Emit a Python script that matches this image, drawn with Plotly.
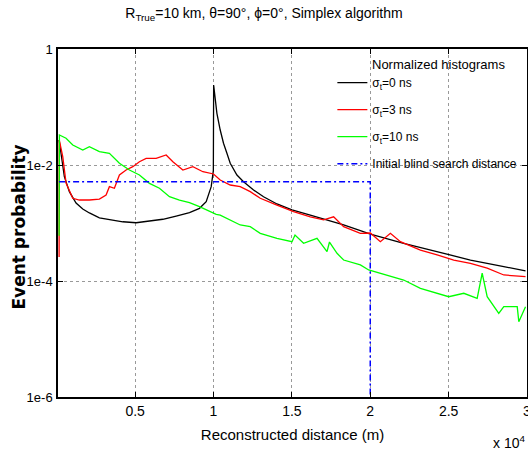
import plotly.graph_objects as go

# ---- data (x in metres, y = event probability) ----
black_x = [150, 485, 805, 1232, 1660, 2082, 2720, 3359, 4215, 5064, 5913, 6769, 7618, 8468,
           9106, 9534, 9854, 9990, 10010, 10218, 10428, 10639, 10856, 11067, 11495, 11916,
           12555, 13193, 14049, 15007, 16176, 17242, 18302, 19369, 20008, 22134, 24267,
           26393, 28520, 29906]
black_y = [0.0270, 0.00628, 0.00347, 0.00221, 0.00174, 0.00149, 0.00123, 0.00116, 0.00105,
           0.00101, 0.00108, 0.00116, 0.00132, 0.00151, 0.00179, 0.00233, 0.00423, 0.0080,
           0.239, 0.0778, 0.0401, 0.0237, 0.0159, 0.0107, 0.00672, 0.00515, 0.00371, 0.00284,
           0.00213, 0.00168, 0.00137, 0.00113, 0.000924, 0.000736, 0.000646, 0.000447,
           0.000320, 0.000230, 0.000177, 0.000150]

red_x = [150, 160, 383, 594, 1022, 1443, 2082, 2720, 3148, 3359, 3678, 3998, 4425, 4853,
         5275, 5703, 6341, 6980, 7408, 8046, 8685, 9324, 10000, 10428, 11067, 11706, 12344,
         12983, 14049, 15109, 16176, 17025, 17664, 18302, 19369, 20008, 20646, 21285, 21923,
         23200, 24267, 25327, 26393, 27460, 28520, 29906]
red_y = [0.000259, 0.0270, 0.0139, 0.00490, 0.00267, 0.00249, 0.00249, 0.00259, 0.00304,
         0.00423, 0.00397, 0.00672, 0.00820, 0.00935, 0.0114, 0.0130, 0.0130, 0.0149, 0.0114,
         0.00820, 0.00935, 0.00766, 0.0070, 0.00551, 0.00452, 0.00423, 0.00347, 0.00267,
         0.00204, 0.00157, 0.00128, 0.00113, 0.00128, 0.000863, 0.000664, 0.000673, 0.000476,
         0.000664, 0.000476, 0.000342, 0.000281, 0.000230, 0.000202, 0.000166, 0.000127,
         0.000119]

green_x = [150, 170, 594, 1022, 1660, 2082, 2720, 3359, 3998, 4636, 5275, 5913, 6552, 7191,
           7829, 8468, 9106, 9745, 10173, 10428, 11067, 11706, 12344, 12983, 14049, 15007,
           15200, 15748, 16604, 17000, 17242, 17400, 17881, 18302, 19369, 19899, 21074, 22134,
           23200, 24267, 25007, 25966, 26821, 27141, 27460, 28200, 28520, 29376, 29478, 29906]
green_y = [0.0006, 0.0329, 0.0289, 0.0221, 0.0181, 0.0207, 0.0170, 0.0159, 0.0107, 0.00820,
           0.00672, 0.00483, 0.00397, 0.00284, 0.00249, 0.00224, 0.00191, 0.00157, 0.00141,
           0.00137, 0.00113, 0.000924, 0.000863, 0.000664, 0.000544, 0.000476, 0.000621,
           0.000447, 0.000544, 0.000400, 0.000320, 0.000470, 0.000300, 0.000230, 0.000189,
           0.000155, 0.000127, 0.000104, 0.0000748, 0.0000614, 0.0000536, 0.0000614,
           0.0000504, 0.000136, 0.0000536, 0.0000277, 0.0000361, 0.0000361, 0.0000199,
           0.0000361]

blind_x = [150, 20000, 20000]
blind_y = [0.00515, 0.00515, 1e-6]

x_tickvals = [5000, 10000, 15000, 20000, 25000, 30000]
x_ticktext = ["0.5", "1", "1.5", "2", "2.5", "3"]
y_tickvals = [1e-6, 1e-4, 1e-2, 1]
y_ticktext = ["1e-6", "1e-4", "1e-2", "1"]

SANS = "Liberation Sans, Arial, sans-serif"

fig = go.Figure()
fig.add_trace(go.Scatter(x=black_x, y=black_y, mode="lines", name="σ<sub>t</sub>=0 ns",
                         line=dict(color="black", width=1.3), legendgroup="a"))
fig.add_trace(go.Scatter(x=red_x, y=red_y, mode="lines", name="σ<sub>t</sub>=3 ns",
                         line=dict(color="#ff0000", width=1.3), legendgroup="b"))
fig.add_trace(go.Scatter(x=green_x, y=green_y, mode="lines", name="σ<sub>t</sub>=10 ns",
                         line=dict(color="#00ff00", width=1.3), legendgroup="c"))
fig.add_trace(go.Scatter(x=blind_x, y=blind_y, mode="lines", name="Initial blind search distance",
                         line=dict(color="#0000ff", width=1.5, dash="6px,3px,2px,3px"),
                         legendgroup="d"))

fig.update_layout(
    width=528, height=457,
    margin=dict(l=58, r=1, t=49, b=60, autoexpand=False),
    paper_bgcolor="white", plot_bgcolor="white",
    font=dict(family=SANS, size=14, color="black"),
    title=dict(text="R<sub>True</sub>=10 km, θ=90°, ϕ=0°, Simplex algorithm",
               x=0.5, xanchor="center", y=0.972, yanchor="middle",
               font=dict(family=SANS, size=14)),
    showlegend=True,
    legend=dict(x=0.585, y=0.945, xanchor="left", yanchor="top",
                bgcolor="rgba(0,0,0,0)", borderwidth=0,
                font=dict(family=SANS, size=12),
                itemwidth=30, traceorder="grouped", tracegroupgap=8),
    xaxis=dict(type="linear", range=[80, 30000], tickvals=x_tickvals, ticktext=x_ticktext,
               ticks="inside", ticklen=5, tickcolor="black", showline=True, linecolor="black",
               linewidth=1.5, mirror="ticks", showgrid=True, gridcolor="#999",
               griddash="dot", gridwidth=1, zeroline=False, automargin=False,
               ticklabeloverflow="allow",
               tickfont=dict(family=SANS, size=14),
               title=dict(text="Reconstructed distance (m)", standoff=12,
                          font=dict(family=SANS, size=15))),
    yaxis=dict(type="log", range=[-6, 0], tickvals=y_tickvals, ticktext=y_ticktext,
               ticks="inside", ticklen=5, tickcolor="black", showline=True, linecolor="black",
               linewidth=1.5, mirror="ticks", showgrid=True, gridcolor="#999",
               griddash="dot", gridwidth=1, zeroline=False, automargin=False,
               ticklabeloverflow="allow",
               tickfont=dict(family=SANS, size=13), ticklabelstandoff=1),
    annotations=[
        dict(text="Event probability", xref="paper", yref="paper",
             x=(18 - 58) / 469, y=1 - (227.5 - 49) / 348, xanchor="center", yanchor="middle",
             textangle=-90, showarrow=False,
             font=dict(family="DejaVu Sans", size=17, weight="bold")),
        dict(text="Normalized histograms", xref="paper", yref="paper",
             x=(370 - 58) / 469, y=1 - (65 - 49) / 348, xanchor="left", yanchor="middle",
             showarrow=False, font=dict(family=SANS, size=13)),
        dict(text="x 10<sup>4</sup>", xref="paper", yref="paper",
             x=1.0, y=-0.13, xanchor="right", yanchor="middle",
             showarrow=False, font=dict(family=SANS, size=14)),
    ],
)

fig.write_html("out.html", config={"displayModeBar": False},
               post_script="document.body.style.margin='0px';")
